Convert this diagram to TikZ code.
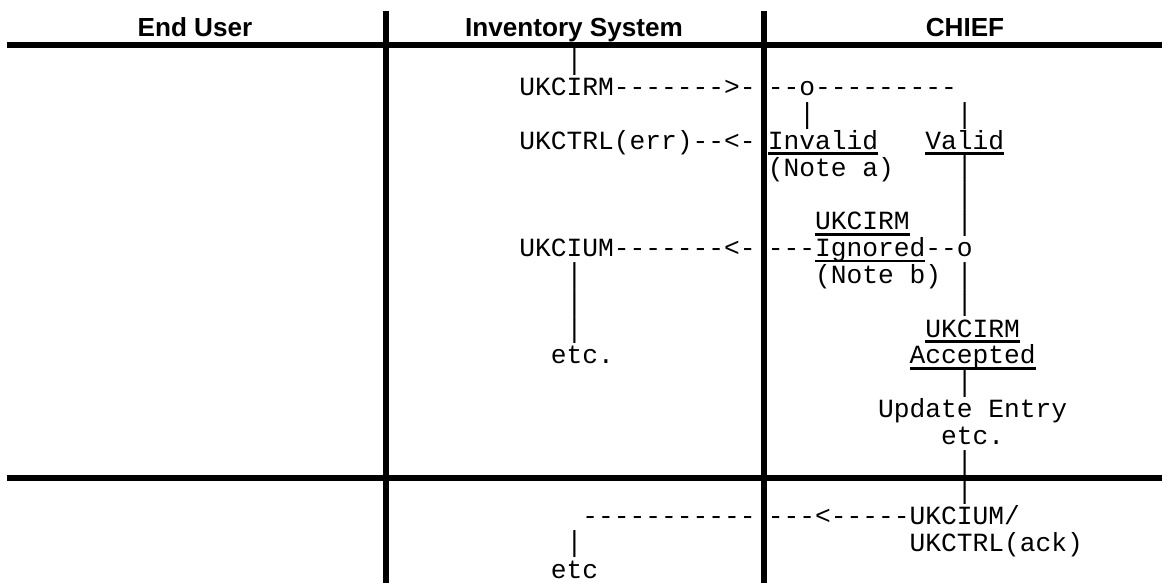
\documentclass[tikz,border=0pt]{standalone}
\usepackage{graphicx}
\usepackage{fontspec}
\setmainfont{Liberation Sans}
\setmonofont{Liberation Mono}
\newcommand\myul[1]{\setbox0\hbox{#1}\rlap{\rule[-4.3pt]{\wd0}{2pt}}\box0}
\newcommand\vbar{\raisebox{-4.9pt}{\resizebox*{\width}{20.2pt}{\raisebox{\depth}{|}}}}
\def\colA{519}\def\colB{767.5}\def\CW{15.75}\def\YA{69}\def\LH{26.8}
\newcommand\putline[5]{\node[txt] (#1) at ({#2+#3*\CW},{\YA+#4*\LH}) {#5};}
\tikzset{
  tabrule/.style={line width=4.5pt, line cap=butt},
  hdr/.style={anchor=base, inner sep=0pt, font=\fontsize{19.6pt}{23pt}\selectfont\bfseries},
  txt/.style={anchor=base west, inner sep=0pt, font=\ttfamily\fontsize{19.69pt}{26pt}\selectfont},
}
\begin{document}
\begin{tikzpicture}[x=0.75pt,y=-0.75pt]
\useasboundingbox (0,0) rectangle (1162,583);
% table rules
\draw[tabrule] (7,44.7) -- (1162,44.7);
\draw[tabrule] (7,477.7) -- (1162,477.7);
\draw[tabrule] (386,11) -- (386,583);
\draw[tabrule] (764,11) -- (764,583);
% headers
\node[hdr] (hEU) at (195,36) {End User};
\node[hdr] (hIS) at (574,36) {Inventory System};
\node[hdr] (hCH) at (965,36) {CHIEF};
% Inventory System column
\putline{i0}{\colA}{3}{0}{\vbar}
\putline{i1}{\colA}{0}{1}{UKCIRM------->-}
\putline{i3}{\colA}{0}{3}{UKCTRL(err)--<-}
\putline{i7}{\colA}{0}{7}{UKCIUM-------<-}
\putline{i8}{\colA}{3}{8}{\vbar}
\putline{i9}{\colA}{3}{9}{\vbar}
\putline{i10}{\colA}{3}{10}{\vbar}
\putline{i11}{\colA}{2}{11}{etc.}
\putline{i17}{\colA}{4}{17}{-----------}
\putline{i18}{\colA}{3}{18}{\vbar}
\putline{i19}{\colA}{2}{19}{etc}
% CHIEF column
\putline{c1}{\colB}{0}{1}{--o---------}
\putline{c2a}{\colB}{2}{2}{\vbar}
\putline{c2b}{\colB}{12}{2}{\vbar}
\putline{c3a}{\colB}{0}{3}{\myul{Invalid}}
\putline{c3b}{\colB}{10}{3}{\myul{Valid}}
\putline{c4a}{\colB}{0}{4}{(Note a)}
\putline{c4b}{\colB}{12}{4}{\vbar}
\putline{c5}{\colB}{12}{5}{\vbar}
\putline{c6a}{\colB}{3}{6}{\myul{UKCIRM}}
\putline{c6b}{\colB}{12}{6}{\vbar}
\putline{c7}{\colB}{0}{7}{---\myul{Ignored}--o}
\putline{c8a}{\colB}{3}{8}{(Note b)}
\putline{c8b}{\colB}{12}{8}{\vbar}
\putline{c9}{\colB}{12}{9}{\vbar}
\putline{c10}{\colB}{10}{10}{\myul{UKCIRM}}
\putline{c11}{\colB}{9}{11}{\myul{Accepted}}
\putline{c12}{\colB}{12}{12}{\vbar}
\putline{c13}{\colB}{7}{13}{Update Entry}
\putline{c14}{\colB}{11}{14}{etc.}
\putline{c15}{\colB}{12}{15}{\vbar}
\putline{c16}{\colB}{12}{16}{\vbar}
\putline{c17}{\colB}{0}{17}{---<-----UKCIUM/}
\putline{c18}{\colB}{9}{18}{UKCTRL(ack)}
\end{tikzpicture}
\end{document}
